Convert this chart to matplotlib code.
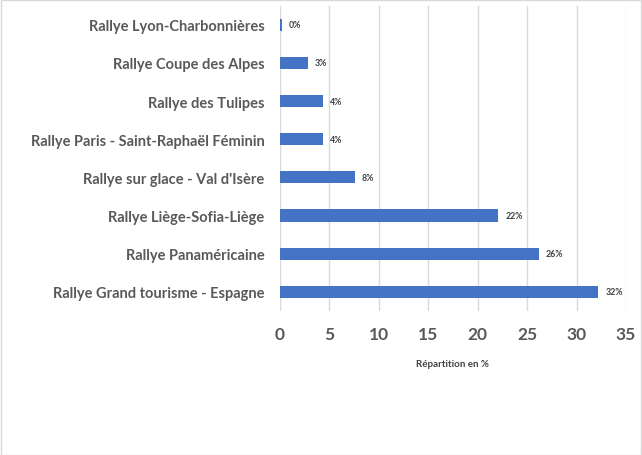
import matplotlib
matplotlib.use('Agg')
import matplotlib.pyplot as plt
from matplotlib.patches import Rectangle

# categories from top to bottom, as in the picture
rallyes = [
    'Rallye Lyon-Charbonnières',
    'Rallye Coupe des Alpes',
    'Rallye des Tulipes',
    'Rallye Paris - Saint-Raphaël Féminin',
    "Rallye sur glace - Val d'Isère",
    'Rallye Liège-Sofia-Liège',
    'Rallye Panaméricaine',
    'Rallye Grand tourisme - Espagne',
]
parts = [0.2, 2.8, 4.4, 4.4, 7.6, 22.1, 26.2, 32.2]
labels = ['0%', '3%', '4%', '4%', '8%', '22%', '26%', '32%']
x_ticks = [0, 5, 10, 15, 20, 25, 30, 35]

plt.rcParams['font.family'] = ['Lato', 'DejaVu Sans']

fig = plt.figure(figsize=(6.42, 4.56), dpi=100)
ax = fig.add_axes([0.436, 0.316, 0.539, 0.6695])

pos = list(range(len(rallyes)))[::-1]
ax.barh(pos, parts, height=0.32, color='#4472C4', zorder=3)
for y, v, lab in zip(pos, parts, labels):
    ax.annotate(lab, (v, y), xytext=(5, 0), textcoords='offset points',
                va='center', ha='left', fontsize=6.3, fontweight='bold', color='#404040')

ax.set_ylim(-0.5, len(rallyes) - 0.5)
ax.set_xlim(0, 35)
ax.set_xticks(x_ticks)
ax.set_yticks(pos)
ax.set_yticklabels(rallyes)
ax.tick_params(axis='y', length=0, pad=11, labelsize=10.5, labelcolor='#595959')
ax.tick_params(axis='x', length=0, pad=11, labelsize=12.5, labelcolor='#595959')
for t in ax.get_xticklabels() + ax.get_yticklabels():
    t.set_fontweight('bold')

ax.grid(axis='x', color='#d9d9d9', linewidth=1, zorder=0)
for s in ax.spines.values():
    s.set_visible(False)

ax.set_xlabel('Répartition en %', fontsize=7, fontweight='bold', color='#404040', labelpad=12)

# thin frame around the chart area
fig.patches.append(Rectangle((0.001, 0.001), 0.997, 0.997, transform=fig.transFigure,
                             fill=False, edgecolor='#d9d9d9', linewidth=1))

fig.savefig('out.png', dpi=100)
